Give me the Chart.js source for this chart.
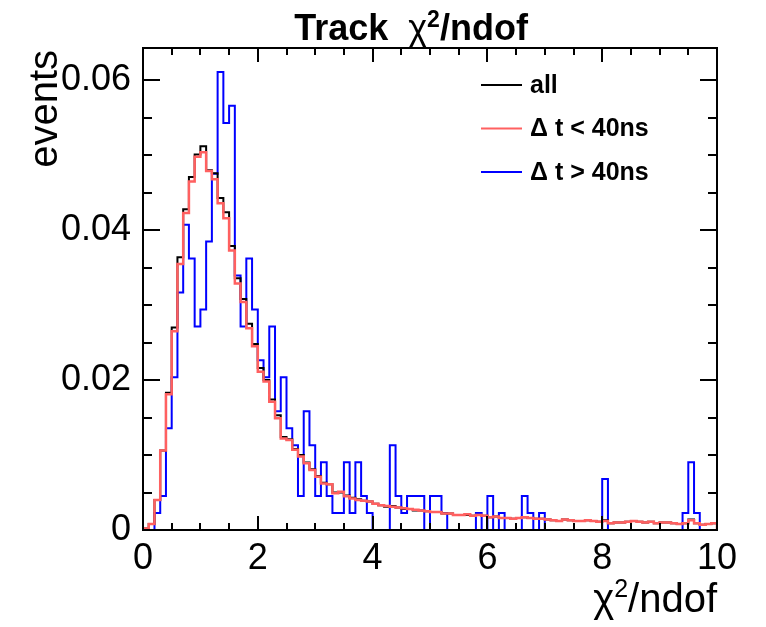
<!DOCTYPE html>
<html>
<head>
<meta charset="utf-8">
<script src="https://cdn.jsdelivr.net/npm/chart.js@4.4.1/dist/chart.umd.min.js"></script>
<style>
  html, body { margin: 0; padding: 0; background: #fff; }
</style>
</head>
<body>
<canvas id="myChart" width="766" height="627"></canvas>
<script>
// 100 bins of width 0.1 from 0 to 10
const binWidth = 0.1;
const binCount = 100;

// "all" (black)
const allValues = [
  0.0002, 0.0008, 0.0040, 0.0106, 0.0183, 0.0270, 0.0364, 0.0428, 0.0471, 0.0501,
  0.0512, 0.0480, 0.0476, 0.0443, 0.0424, 0.0379, 0.0336, 0.0308, 0.0275, 0.0248,
  0.0216, 0.0200, 0.0174, 0.0153, 0.0124, 0.0121, 0.0108, 0.0100, 0.0090, 0.0081,
  0.0072, 0.0063, 0.0061, 0.0050, 0.0050, 0.0046, 0.0043, 0.0041, 0.0039, 0.0038,
  0.0035, 0.0033, 0.0031, 0.0032, 0.0030, 0.0028, 0.0028, 0.0026, 0.0026, 0.0025,
  0.0024, 0.0024, 0.0022, 0.0022, 0.0020, 0.0020, 0.0020, 0.0019, 0.0020, 0.0019,
  0.0017, 0.0018, 0.0016, 0.0016, 0.0015, 0.0016, 0.0017, 0.0016, 0.0015, 0.0015,
  0.0014, 0.0013, 0.0012, 0.0014, 0.0013, 0.0012, 0.0012, 0.0013, 0.0012, 0.0011,
  0.0013, 0.0009, 0.0010, 0.0010, 0.0011, 0.0012, 0.0011, 0.0010, 0.0011, 0.0009,
  0.0010, 0.0010, 0.0009, 0.0008, 0.0009, 0.0014, 0.0009, 0.0007, 0.0008, 0.0009
];

// dt < 40ns (red)
const earlyValues = [
  0.0002, 0.0008, 0.0040, 0.0106, 0.0181, 0.0265, 0.0355, 0.0423, 0.0465, 0.0498,
  0.0504, 0.0479, 0.0468, 0.0436, 0.0416, 0.0373, 0.0329, 0.0304, 0.0269, 0.0245,
  0.0211, 0.0198, 0.0171, 0.0149, 0.0122, 0.0120, 0.0107, 0.0098, 0.0089, 0.0080,
  0.0071, 0.0062, 0.0061, 0.0049, 0.0051, 0.0045, 0.0042, 0.0040, 0.0039, 0.0038,
  0.0035, 0.0033, 0.0032, 0.0031, 0.0030, 0.0029, 0.0028, 0.0027, 0.0026, 0.0025,
  0.0024, 0.0024, 0.0022, 0.0022, 0.0020, 0.0020, 0.0021, 0.0019, 0.0020, 0.0019,
  0.0017, 0.0018, 0.0016, 0.0016, 0.0015, 0.0016, 0.0017, 0.0016, 0.0015, 0.0015,
  0.0014, 0.0013, 0.0012, 0.0014, 0.0013, 0.0012, 0.0012, 0.0013, 0.0012, 0.0011,
  0.0012, 0.0009, 0.0010, 0.0010, 0.0011, 0.0012, 0.0011, 0.0010, 0.0011, 0.0009,
  0.0010, 0.0010, 0.0009, 0.0008, 0.0009, 0.0013, 0.0009, 0.0007, 0.0008, 0.0009
];

// dt > 40ns (blue)
const lateValues = [
  0, 0, 0.00226, 0.00453, 0.01358, 0.02037, 0.03168, 0.04073, 0.03621, 0.02716,
  0.02942, 0.03847, 0.04752, 0.0611, 0.05431, 0.05658, 0.03395, 0.02716, 0.03621, 0.02942,
  0.02263, 0.02037, 0.02716, 0.01584, 0.02037, 0.01358, 0.01132, 0.00453, 0.01584, 0.01132,
  0.00453, 0.00905, 0.00453, 0.00226, 0.00226, 0.00905, 0.00226, 0.00905, 0.00453, 0.00226,
  0, 0, 0, 0.01132, 0.00453, 0.00226, 0.00453, 0.00453, 0.00453, 0,
  0.00453, 0.00453, 0.00226, 0, 0, 0, 0, 0, 0.00226, 0,
  0.00453, 0, 0.00226, 0, 0, 0, 0.00453, 0.00226, 0, 0.00226,
  0, 0, 0, 0, 0, 0, 0, 0, 0, 0,
  0.00679, 0, 0, 0, 0, 0, 0, 0, 0, 0,
  0, 0, 0, 0, 0.00226, 0.00905, 0.00226, 0, 0, 0
];

const xLabelTicks = [0, 2, 4, 6, 8, 10];
const yLabelTicks = [0, 0.02, 0.04, 0.06];
const xMinorStep = 0.5;
const yMinorStep = 0.005;
const yMax = 0.0643;

const legendLabels = ['all', 'Δ t < 40ns', 'Δ t > 40ns'];
const colors = ['#000000', '#ff6060', '#0000ff'];

const FONT = '"Liberation Sans", Arial, Helvetica, sans-serif';

function histPoints(values) {
  const pts = [{ x: 0, y: 0 }];
  values.forEach((v, i) => pts.push({ x: i * binWidth, y: v }));
  pts.push({ x: binCount * binWidth, y: values[values.length - 1] });
  pts.push({ x: binCount * binWidth, y: 0 });
  return pts;
}

// draw text runs (text, font, raise) one after another
function drawRuns(ctx, runs, x, y, align) {
  let total = 0;
  runs.forEach(r => { ctx.font = r.font; r.w = ctx.measureText(r.text).width; total += r.w; });
  let cx = align === 'center' ? x - total / 2 : align === 'right' ? x - total : x;
  ctx.textAlign = 'left';
  runs.forEach(r => {
    ctx.font = r.font;
    ctx.fillText(r.text, cx, y - (r.raise || 0));
    cx += r.w;
  });
}

const rootStyle = {
  id: 'rootStyle',
  afterDatasetsDraw(chart) {
    const { ctx, chartArea: a, scales: { x, y } } = chart;
    ctx.save();
    ctx.strokeStyle = '#000';
    ctx.lineWidth = 2;
    ctx.strokeRect(a.left, a.top, a.right - a.left, a.bottom - a.top);
    ctx.beginPath();
    // x ticks, bottom and top
    for (let v = x.min; v <= x.max + 1e-9; v += xMinorStep) {
      const px = Math.round(x.getPixelForValue(v));
      const major = xLabelTicks.some(t => Math.abs(t - v) < 1e-6);
      const len = major ? 14 : 7;
      ctx.moveTo(px, a.bottom); ctx.lineTo(px, a.bottom - len);
      ctx.moveTo(px, a.top); ctx.lineTo(px, a.top + len);
    }
    // y ticks, left and right
    for (let v = 0; v <= yMax + 1e-9; v += yMinorStep) {
      const py = Math.round(y.getPixelForValue(v));
      const major = yLabelTicks.some(t => Math.abs(t - v) < 1e-6);
      const len = major ? 17 : 9;
      ctx.moveTo(a.left, py); ctx.lineTo(a.left + len, py);
      ctx.moveTo(a.right, py); ctx.lineTo(a.right - len, py);
    }
    ctx.stroke();
    ctx.restore();
  },
  afterDraw(chart) {
    const { ctx, chartArea: a } = chart;
    ctx.save();
    ctx.fillStyle = '#000';
    ctx.textBaseline = 'alphabetic';
    // title
    drawRuns(ctx, [
      { text: 'Track  ', font: 'bold 36px ' + FONT },
      { text: 'χ', font: '36px ' + FONT },
      { text: '2', font: 'bold 23px ' + FONT, raise: 13 },
      { text: '/ndof', font: 'bold 36px ' + FONT }
    ], 411, 40, 'center');
    // x axis title
    drawRuns(ctx, [
      { text: 'χ', font: '40px ' + FONT },
      { text: '2', font: '25px ' + FONT, raise: 15 },
      { text: '/ndof', font: '40px ' + FONT }
    ], a.right, 612, 'right');
    // y axis title
    ctx.translate(57, a.top + 2);
    ctx.rotate(-Math.PI / 2);
    ctx.font = '40px ' + FONT;
    ctx.textAlign = 'right';
    ctx.fillText('events', 0, 0);
    ctx.restore();
    // legend
    ctx.save();
    ctx.font = 'bold 25px ' + FONT;
    ctx.textAlign = 'left';
    ctx.textBaseline = 'middle';
    legendLabels.forEach((lab, i) => {
      const cy = 85 + i * 43.5;
      ctx.strokeStyle = colors[i];
      ctx.lineWidth = 2;
      ctx.beginPath();
      ctx.moveTo(481, cy); ctx.lineTo(522, cy);
      ctx.stroke();
      ctx.fillStyle = '#000';
      ctx.fillText(lab, 530, cy + 1);
    });
    ctx.restore();
  }
};

new Chart(document.getElementById('myChart'), {
  type: 'line',
  data: {
    datasets: [
      { label: legendLabels[1], data: histPoints(earlyValues), borderColor: colors[1], borderWidth: 2.5, order: 0 },
      { label: legendLabels[0], data: histPoints(allValues), borderColor: colors[0], borderWidth: 2, order: 1 },
      { label: legendLabels[2], data: histPoints(lateValues), borderColor: colors[2], borderWidth: 2, order: 2 }
    ]
  },
  options: {
    responsive: false,
    animation: false,
    devicePixelRatio: 1,
    layout: { padding: { top: 48, right: 49, left: 0, bottom: 0 } },
    elements: {
      point: { radius: 0 },
      line: { stepped: 'before', fill: false, tension: 0, borderJoinStyle: 'miter' }
    },
    plugins: {
      legend: { display: false },
      tooltip: { enabled: false },
      title: { display: false }
    },
    scales: {
      x: {
        type: 'linear',
        min: 0,
        max: 10,
        afterBuildTicks: s => { s.ticks = xLabelTicks.map(v => ({ value: v })); },
        afterFit: s => { s.height = 97; },
        grid: { display: false, drawTicks: false },
        border: { display: false },
        ticks: {
          font: { family: FONT, size: 36 },
          color: '#000',
          padding: 7,
          maxRotation: 0,
          autoSkip: false,
          callback: v => String(v)
        }
      },
      y: {
        type: 'linear',
        min: 0,
        max: yMax,
        afterBuildTicks: s => { s.ticks = yLabelTicks.map(v => ({ value: v })); },
        afterFit: s => { s.width = 143; },
        grid: { display: false, drawTicks: false },
        border: { display: false },
        ticks: {
          font: { family: FONT, size: 36 },
          color: '#000',
          padding: 12,
          autoSkip: false,
          callback: v => (v === 0 ? '0' : v.toFixed(2))
        }
      }
    }
  },
  plugins: [rootStyle]
});
</script>
</body>
</html>
